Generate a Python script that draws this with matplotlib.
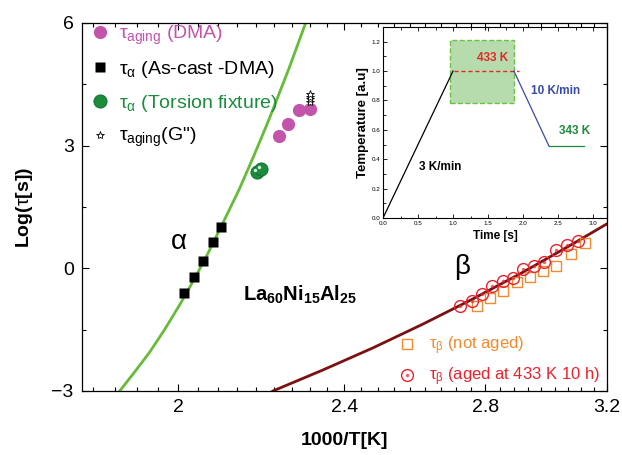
import numpy as np
import matplotlib.pyplot as plt
from matplotlib.ticker import FixedLocator, FixedFormatter, NullFormatter, MultipleLocator
from matplotlib.transforms import offset_copy
from matplotlib.patches import Rectangle

plt.rcParams['font.family'] = ['Liberation Sans', 'DejaVu Sans']
plt.rcParams['mathtext.fontset'] = 'custom'
plt.rcParams['mathtext.rm'] = 'Liberation Sans'
plt.rcParams['mathtext.it'] = 'Liberation Sans'
plt.rcParams['mathtext.bf'] = 'Liberation Sans:bold'

# Datos (x = 1000/T, y = log(tau))
x_aging_dma = [2.233, 2.257, 2.283, 2.311]
y_aging_dma = [3.24, 3.52, 3.86, 3.89]
x_alpha_dma = [2.014, 2.034, 2.055, 2.078, 2.096]
y_alpha_dma = [-0.60, -0.22, 0.17, 0.64, 1.02]
x_alpha_tors = [2.181, 2.190]
y_alpha_tors = [2.36, 2.42]
x_aging_g = [2.311, 2.311, 2.311, 2.311]
y_aging_g = [4.06, 4.13, 4.20, 4.27]
x_beta_not = [2.774, 2.815, 2.856, 2.898, 2.941, 2.983, 3.027, 3.075, 3.125]
y_beta_not = [-0.92, -0.73, -0.55, -0.34, -0.22, -0.06, 0.06, 0.34, 0.63]
x_beta_aged = [2.724, 2.759, 2.789, 2.820, 2.854, 2.887, 2.919, 2.953, 2.986, 3.027, 3.064, 3.099]
y_beta_aged = [-0.92, -0.79, -0.63, -0.43, -0.31, -0.24, -0.02, 0.06, 0.16, 0.45, 0.57, 0.68]
# curvas de ajuste (leidas punto a punto)
x_fit_alpha = [1.876, 1.906, 1.938, 1.970, 2.002, 2.035, 2.068, 2.102, 2.138,
               2.173, 2.209, 2.258, 2.300, 2.320]
y_fit_alpha = [-3.0, -2.55, -2.06, -1.51, -0.92, -0.28, 0.40, 1.14, 1.92,
               2.75, 3.63, 4.88, 6.0, 6.55]
x_fit_beta = [2.219, 2.343, 2.475, 2.614, 2.760, 2.915, 3.078, 3.198, 3.22]
y_fit_beta = [-3.0, -2.49, -1.95, -1.37, -0.76, -0.11, 0.58, 1.08, 1.17]

# Datos del inserto (protocolo de temperatura)
t_ramp = [0.0, 1.0]
T_ramp = [0.0, 1.0]
t_hold = [1.01, 1.94]
T_hold = [1.0, 1.0]
t_cool = [1.87, 2.37]
T_cool = [1.0, 0.49]
t_final = [2.37, 2.87]
T_final = [0.49, 0.49]
box_t = [0.95, 1.87]
box_T = [0.78, 1.21]

c_pink = '#c254ab'
c_green_line = '#66bb3a'
c_green = '#1a8c3c'
c_darkred = '#7b1010'
c_orange = '#f28a2e'
c_red = '#e8232d'

fig = plt.figure(figsize=(6.22, 4.55), dpi=100)
ax = fig.add_axes([0.1318, 0.1407, 0.8441, 0.8088])
ax.set_xscale('log')
ax.set_xlim(1.8, 3.2)
ax.set_ylim(-3, 6)

ax.plot(x_fit_alpha, y_fit_alpha, color=c_green_line, lw=2.0, zorder=2)
ax.plot(x_fit_beta, y_fit_beta, color=c_darkred, lw=2.0, zorder=2)

h_pink, = ax.plot(x_aging_dma, y_aging_dma, 'o', color=c_pink, ms=9.5, mec='none',
                  label=r'$\tau_{\mathrm{aging}}$ (DMA)')
h_sq, = ax.plot(x_alpha_dma, y_alpha_dma, 's', color='black', ms=7.5, mec='none',
                label=r'$\tau_{\alpha}$ (As-cast -DMA)')
h_ball, = ax.plot(x_alpha_tors, y_alpha_tors, 'o', color=c_green, ms=9.5, mec='#0e6a2a',
                  mew=0.6, label=r'$\tau_{\alpha}$ (Torsion fixture)')
hl = offset_copy(ax.transData, fig=fig, x=-1.6, y=1.6, units='points')
ax.plot(x_alpha_tors, y_alpha_tors, 'o', color='#cfeed8', ms=2.5, mec='none', transform=hl)
h_star, = ax.plot(x_aging_g, y_aging_g, '*', mfc='white', mec='black', mew=0.6, ms=6,
                  label='$\\tau_{\\mathrm{aging}}$(G")')

h_nb, = ax.plot(x_beta_not, y_beta_not, 's', mfc='none', mec=c_orange, mew=1.0, ms=7.5,
                label=r'$\tau_{\beta}$ (not aged)')
h_ab, = ax.plot(x_beta_aged, y_beta_aged, 'o', mfc='none', mec=c_red, mew=1.0, ms=8.5,
                label=r'$\tau_{\beta}$ (aged at 433 K 10 h)')
h_ab2, = ax.plot(x_beta_aged, y_beta_aged, 'o', color=c_red, ms=2.5, mec='none', alpha=0.7)

# ejes principales (escala log en x)
major = [2.0, 2.4, 2.8, 3.2]
minor = []
for a in [1.6] + major[:-1]:
    minor += [a + k * 0.4 / 9 for k in range(1, 9)]
minor = [m for m in minor if 1.8 <= m <= 3.2]
ax.xaxis.set_major_locator(FixedLocator(major))
ax.xaxis.set_major_formatter(FixedFormatter(['2', '2.4', '2.8', '3.2']))
ax.xaxis.set_minor_locator(FixedLocator(minor))
ax.xaxis.set_minor_formatter(NullFormatter())
ax.set_yticks([-3, 0, 3, 6])
ax.yaxis.set_minor_locator(MultipleLocator(1.5))
ax.tick_params(which='both', direction='in', top=True, right=True, labelsize=14, width=0.8)
ax.tick_params(which='major', length=5, pad=6)
ax.tick_params(which='minor', length=3)
for s in ax.spines.values():
    s.set_linewidth(0.9)

ax.set_xlabel('1000/T[K]', fontsize=14, fontweight='bold', labelpad=11)
ax.set_ylabel(r'Log($\tau$[s])', fontsize=14, fontweight='bold', labelpad=12)

ax.text(2.002, 0.62, r'$\alpha$', fontsize=20, family='Liberation Serif', ha='center', va='center')
ax.text(2.73, 0.02, r'$\beta$', fontsize=20, family='Liberation Serif', ha='center', va='center')
ax.text(2.148, -0.64, r'$\mathbf{La_{60}Ni_{15}Al_{25}}$', fontsize=14.5, fontweight='bold',
        ha='left', va='center')

leg1 = ax.legend(handles=[h_pink, h_sq, h_ball, h_star], loc='upper left',
                 bbox_to_anchor=(-0.005, 1.03), frameon=False, fontsize=14,
                 handlelength=0.9, handletextpad=0.55, labelspacing=0.64, borderaxespad=0.2)
for t, c in zip(leg1.get_texts(), [c_pink, 'black', c_green, 'black']):
    t.set_color(c)
ax.add_artist(leg1)
leg2 = ax.legend(handles=[h_nb, (h_ab, h_ab2)], labels=[h_nb.get_label(), h_ab.get_label()],
                 loc='lower left', bbox_to_anchor=(0.585, -0.02), frameon=False, fontsize=12,
                 handlelength=1.0, handletextpad=0.8, labelspacing=0.5, borderaxespad=0.2)
for t, c in zip(leg2.get_texts(), [c_orange, c_red]):
    t.set_color(c)

ax.set_facecolor('none')
ax.set_zorder(2)

# inserto
ins = fig.add_axes([0.6158, 0.5209, 0.3601, 0.4198])
ins.set_zorder(1)
ins.set_xlim(0, 3.2)
ins.set_ylim(0, 1.3)
ins.add_patch(Rectangle((box_t[0], box_T[0]), box_t[1] - box_t[0], box_T[1] - box_T[0],
                        facecolor='#b6dcae', edgecolor='#6cc04a', ls='--', lw=1.0))
ins.plot(t_ramp, T_ramp, color='black', lw=0.9)
ins.plot(t_hold, T_hold, color='#e5262a', lw=1.0, ls='--', dashes=(3, 2))
ins.plot(t_cool, T_cool, color='#3a4aa8', lw=0.9)
ins.plot(t_final, T_final, color='#1f8a3a', lw=0.9)
ins.text(1.56, 1.09, '433 K', color='#e5262a', fontsize=8.5, fontweight='bold', ha='center', va='center')
ins.text(2.47, 0.865, '10 K/min', color='#3a4aa8', fontsize=8.5, fontweight='bold', ha='center', va='center')
ins.text(2.74, 0.59, '343 K', color='#1f8a3a', fontsize=8.5, fontweight='bold', ha='center', va='center')
ins.text(0.82, 0.35, '3 K/min', color='black', fontsize=8.5, fontweight='bold', ha='center', va='center')
ins.set_xticks(np.arange(0, 3.01, 0.5))
ins.xaxis.set_minor_locator(MultipleLocator(0.25))
ins.set_yticks(np.arange(0, 1.21, 0.2))
ins.yaxis.set_minor_locator(MultipleLocator(0.1))
ins.tick_params(which='both', direction='in', top=True, right=False, labelsize=4.5, width=0.6, pad=2)
ins.tick_params(which='major', length=3)
ins.tick_params(which='minor', length=1.8)
for s in ins.spines.values():
    s.set_linewidth(0.8)
ins.set_xlabel('Time [s]', fontsize=8.5, fontweight='bold', labelpad=3)
ins.set_ylabel('Temperature [a.u]', fontsize=9.5, fontweight='bold', labelpad=2)

fig.savefig('out.png', dpi=100)
